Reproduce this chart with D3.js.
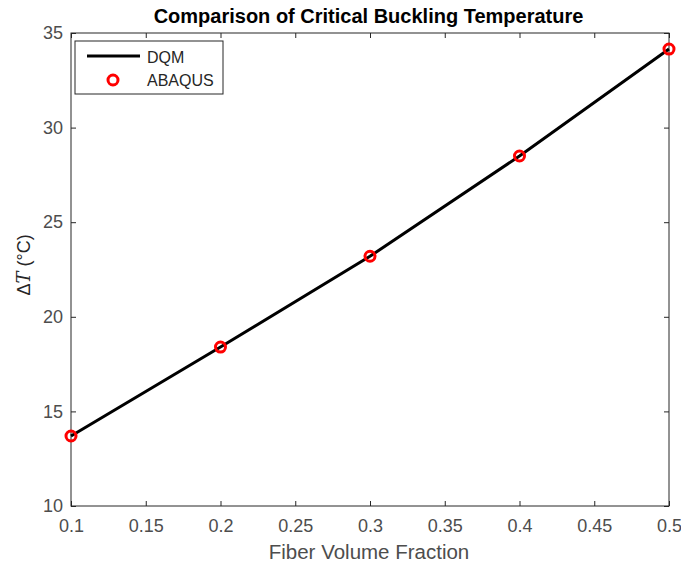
<!DOCTYPE html>
<html>
<head>
<meta charset="utf-8">
<script src="https://cdn.jsdelivr.net/npm/d3@7"></script>
<style>
  body { margin: 0; background: #fff; }
  text { font-family: "Liberation Sans", Arial, sans-serif; }
</style>
</head>
<body>
<svg id="chart" width="681" height="564"></svg>
<script>
// data
var fractions = [0.1, 0.2, 0.3, 0.4, 0.5];
var dqm = [13.7, 18.4, 23.2, 28.5, 34.15];
var abaqus = [13.7, 18.4, 23.2, 28.5, 34.15];
var xTicks = [0.1, 0.15, 0.2, 0.25, 0.3, 0.35, 0.4, 0.45, 0.5];
var yTicks = [10, 15, 20, 25, 30, 35];

var svg = d3.select("#chart"),
  plotLeft = 71, plotRight = 669, plotTop = 33, plotBottom = 506;

var x = d3.scaleLinear().domain([0.1, 0.5]).range([plotLeft, plotRight]);
var y = d3.scaleLinear().domain([10, 35]).range([plotBottom, plotTop]);

var axisColor = "#262626", labelColor = "#4d4d4d";

// box
svg.append("rect")
  .attr("x", plotLeft).attr("y", plotTop)
  .attr("width", plotRight - plotLeft).attr("height", plotBottom - plotTop)
  .attr("fill", "none").attr("stroke", axisColor).attr("stroke-width", 1);

// axes with inward ticks
function styleAxis(g) {
  g.select(".domain").remove();
  g.selectAll(".tick line").attr("stroke", axisColor);
  g.selectAll(".tick text").attr("fill", labelColor).style("font-size", "18px");
}

svg.append("g").attr("transform", "translate(0," + plotBottom + ")")
  .call(d3.axisBottom(x).tickValues(xTicks).tickFormat(d3.format("")).tickSizeInner(-5).tickPadding(13))
  .call(styleAxis);
svg.append("g").attr("transform", "translate(0," + plotTop + ")")
  .call(d3.axisTop(x).tickValues(xTicks).tickSizeInner(-5).tickFormat(""))
  .call(styleAxis);
svg.append("g").attr("transform", "translate(" + plotLeft + ",0)")
  .call(d3.axisLeft(y).tickValues(yTicks).tickSizeInner(-5).tickPadding(8))
  .call(styleAxis);
svg.append("g").attr("transform", "translate(" + plotRight + ",0)")
  .call(d3.axisRight(y).tickValues(yTicks).tickSizeInner(-5).tickFormat(""))
  .call(styleAxis);

// DQM line
var line = d3.line()
  .x(function (d, i) { return x(fractions[i]); })
  .y(function (d) { return y(d); });

svg.append("path")
  .datum(dqm)
  .attr("d", line)
  .attr("fill", "none")
  .attr("stroke", "#000")
  .attr("stroke-width", 3);

// ABAQUS markers
svg.append("g").selectAll("circle")
  .data(abaqus)
  .enter().append("circle")
  .attr("cx", function (d, i) { return x(fractions[i]); })
  .attr("cy", function (d) { return y(d); })
  .attr("r", 5)
  .attr("fill", "none")
  .attr("stroke", "#ff0000")
  .attr("stroke-width", 3);

// title
svg.append("text")
  .attr("x", 368.5).attr("y", 23)
  .attr("text-anchor", "middle")
  .style("font-size", "20px").style("font-weight", "bold")
  .attr("fill", "#000")
  .text("Comparison of Critical Buckling Temperature");

// x label
svg.append("text")
  .attr("x", 369).attr("y", 559)
  .attr("text-anchor", "middle")
  .style("font-size", "20.5px")
  .attr("fill", labelColor)
  .text("Fiber Volume Fraction");

// y label
var yl = svg.append("text")
  .attr("transform", "translate(30,265) rotate(-90)")
  .attr("text-anchor", "middle")
  .style("font-size", "18px")
  .attr("fill", "#262626");
yl.append("tspan").text("\u0394");
yl.append("tspan").style("font-family", "'DejaVu Serif', 'Liberation Serif', serif").style("font-style", "italic").text("T");
yl.append("tspan").text(" (\u00B0C)");

// legend
var lg = svg.append("g");
lg.append("rect")
  .attr("x", 75).attr("y", 41).attr("width", 148).attr("height", 53)
  .attr("fill", "#fff").attr("stroke", axisColor).attr("stroke-width", 1);
lg.append("line")
  .attr("x1", 87).attr("x2", 140).attr("y1", 56).attr("y2", 56)
  .attr("stroke", "#000").attr("stroke-width", 3);
lg.append("circle")
  .attr("cx", 113).attr("cy", 80).attr("r", 5)
  .attr("fill", "none").attr("stroke", "#ff0000").attr("stroke-width", 3);
lg.append("text").attr("x", 147).attr("y", 63)
  .style("font-size", "16px").attr("fill", "#262626").text("DQM");
lg.append("text").attr("x", 147).attr("y", 86)
  .style("font-size", "16px").attr("fill", "#262626").text("ABAQUS");
</script>
</body>
</html>
